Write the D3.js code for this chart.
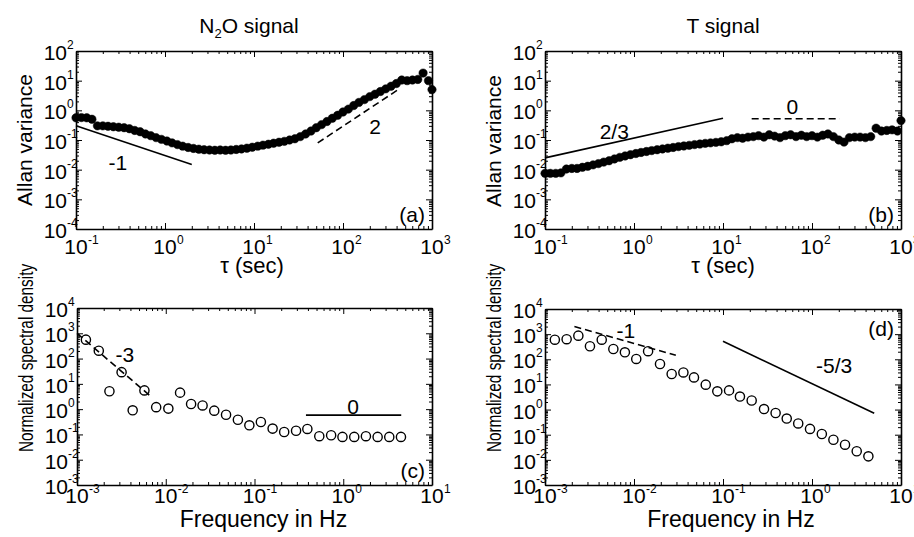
<!DOCTYPE html>
<html>
<head>
<meta charset="utf-8">
<script src="https://cdn.jsdelivr.net/npm/d3@7"></script>
<style>
  body { margin: 0; background: #fff; }
  text { font-family: "Liberation Sans", Arial, sans-serif; fill: #000; }
</style>
</head>
<body>
<svg id="chart" width="914" height="537"></svg>
<script>
// Averaging times (sec) shared by both Allan variance curves
const tauAllan = [0.1, 0.115, 0.132, 0.151, 0.174, 0.2, 0.229, 0.263, 0.302, 0.347, 0.398, 0.457,
  0.525, 0.603, 0.692, 0.794, 0.912, 1.05, 1.2, 1.38, 1.58, 1.82, 2.09, 2.4, 2.75, 3.16, 3.63,
  4.17, 4.79, 5.5, 6.31, 7.24, 8.32, 9.55, 11, 12.6, 14.5, 16.6, 19.1, 21.9, 25.1, 28.8, 33.1,
  38, 43.7, 50.1, 57.5, 66.1, 75.9, 87.1, 100, 115, 132, 151, 174, 200, 229, 263, 302, 347,
  398, 457, 525, 603, 692, 794, 912, 1000];

// (a) N2O signal Allan variance
const allanN2O = [0.56, 0.57, 0.56, 0.5, 0.3, 0.3, 0.29, 0.28, 0.27, 0.26, 0.24, 0.21,
  0.19, 0.16, 0.14, 0.12, 0.105, 0.092, 0.08, 0.07, 0.062, 0.056, 0.052, 0.049, 0.047, 0.046, 0.045,
  0.046, 0.045, 0.046, 0.048, 0.05, 0.053, 0.057, 0.062, 0.067, 0.072, 0.078, 0.084, 0.09, 0.1, 0.11, 0.13,
  0.16, 0.2, 0.26, 0.33, 0.42, 0.54, 0.68, 0.88, 1.1, 1.45, 1.85, 2.3, 2.9, 3.5, 4.3, 5.3, 6.5,
  8, 10.5, 10, 10.5, 11, 18, 10, 5];

// (b) T signal Allan variance
const allanT = [0.0075, 0.0075, 0.0075, 0.0078, 0.0105, 0.011, 0.011, 0.012, 0.013, 0.0145, 0.016, 0.018,
  0.02, 0.023, 0.026, 0.029, 0.032, 0.035, 0.038, 0.041, 0.044, 0.047, 0.05, 0.053, 0.056, 0.06, 0.063,
  0.066, 0.07, 0.073, 0.077, 0.08, 0.083, 0.087, 0.095, 0.11, 0.12, 0.115, 0.125, 0.13, 0.14, 0.125, 0.15,
  0.135, 0.12, 0.14, 0.15, 0.13, 0.145, 0.13, 0.14, 0.125, 0.145, 0.16, 0.13, 0.1, 0.085, 0.12, 0.125, 0.125,
  0.12, 0.13, 0.25, 0.2, 0.21, 0.22, 0.2, 0.45];

// (c) N2O normalized spectral density
const freqN2O = [0.00126, 0.00176, 0.00232, 0.00318, 0.00424, 0.00575, 0.0078, 0.0107, 0.0145, 0.0193,
  0.026, 0.0352, 0.0478, 0.065, 0.0875, 0.118, 0.16, 0.216, 0.294, 0.394, 0.537, 0.73, 0.98, 1.33,
  1.8, 2.44, 3.3, 4.47];
const psdN2O = [560, 205, 5.1, 29, 0.9, 5.5, 1.2, 1.05, 4.5, 1.6, 1.4, 0.87, 0.6, 0.38, 0.23, 0.31,
  0.17, 0.125, 0.14, 0.165, 0.085, 0.093, 0.08, 0.08, 0.085, 0.08, 0.08, 0.08];

// (d) T normalized spectral density
const freqT = [0.00129, 0.00175, 0.00237, 0.0032, 0.00434, 0.00586, 0.0079, 0.0106, 0.0144, 0.0196,
  0.0265, 0.0359, 0.0472, 0.064, 0.0863, 0.117, 0.155, 0.21, 0.289, 0.39, 0.52, 0.7, 0.95, 1.29,
  1.74, 2.35, 3.18, 4.3];
const psdT = [600, 630, 870, 330, 600, 257, 190, 103, 210, 65, 26, 30, 19, 9.8, 5.3, 5.8, 3.3, 2.3,
  1.05, 0.73, 0.44, 0.28, 0.17, 0.107, 0.063, 0.04, 0.022, 0.0138];

// Reference slope lines (endpoints and label anchor in data units)
const slopesN2OAllan = [
  { x: [0.1, 2], y: [0.3, 0.015], dashed: false, label: "-1", lx: 0.296, ly: 0.0168 },
  { x: [52, 430], y: [0.08, 5.3], dashed: true, label: "2", lx: 229, ly: 0.275 }
];
const slopesTAllan = [
  { x: [0.1, 10], y: [0.025, 0.54], dashed: false, label: "2/3", lx: 0.6, ly: 0.186 },
  { x: [21, 205], y: [0.52, 0.52], dashed: true, label: "0", lx: 60, ly: 1.3 }
];
const slopesN2OPsd = [
  { x: [0.001, 0.0069], y: [1000, 3.04], dashed: true, label: "-3", lx: 0.00347, ly: 138 },
  { x: [0.38, 4.5], y: [0.58, 0.58], dashed: false, label: "0", lx: 1.29, ly: 1.2 }
];
const slopesTPsd = [
  { x: [0.00214, 0.0295], y: [2000, 144], dashed: true, label: "-1", lx: 0.0081, ly: 1330 },
  { x: [0.1, 5], y: [520, 0.72], dashed: false, label: "-5/3", lx: 1.77, ly: 54 }
];

const svg = d3.select("#chart");

function decades(domain) {
  let lo = Math.round(Math.log10(domain[0])), hi = Math.round(Math.log10(domain[1]));
  return d3.range(lo, hi + 1).map(e => Math.pow(10, e));
}

function minors(domain) {
  let out = [];
  decades(domain).slice(0, -1).forEach(d => {
    for (let k = 2; k <= 9; k++) out.push(k * d);
  });
  return out;
}

function drawPanel(p) {
  const x = d3.scaleLog().domain(p.xDomain).range([p.left, p.left + p.width]);
  const y = d3.scaleLog().domain(p.yDomain).range([p.top + p.height, p.top]);
  const g = svg.append("g");
  const bottom = p.top + p.height, right = p.left + p.width;

  // inward ticks on all four sides, major and minor
  const sides = [
    { axis: d3.axisBottom(x), t: `translate(0,${bottom})`, major: decades(p.xDomain), minor: minors(p.xDomain) },
    { axis: d3.axisTop(x), t: `translate(0,${p.top})`, major: decades(p.xDomain), minor: minors(p.xDomain) },
    { axis: d3.axisLeft(y), t: `translate(${p.left},0)`, major: decades(p.yDomain), minor: minors(p.yDomain) },
    { axis: d3.axisRight(y), t: `translate(${right},0)`, major: decades(p.yDomain), minor: minors(p.yDomain) }
  ];
  sides.forEach(sd => {
    const make = () => sd.axis.tickFormat("").tickSizeOuter(0);
    g.append("g").attr("transform", sd.t)
      .call(make().tickValues(sd.minor).tickSizeInner(-3))
      .call(a => a.select(".domain").remove());
    g.append("g").attr("transform", sd.t)
      .call(make().tickValues(sd.major).tickSizeInner(-6))
      .call(a => a.select(".domain").attr("stroke-width", 1.6));
  });
  g.selectAll(".tick line").attr("stroke", "#000");

  // x tick labels: 10 with superscript exponent
  decades(p.xDomain).forEach(v => {
    const e = Math.round(Math.log10(v));
    g.append("text").attr("x", x(v)).attr("y", bottom + p.xTickDy)
      .attr("text-anchor", "middle").style("font-size", "21px").text("10");
    g.append("text").attr("x", x(v) + 12).attr("y", bottom + p.xTickDy - 10)
      .style("font-size", "12px").text(e);
  });
  // y tick labels
  decades(p.yDomain).forEach(v => {
    const e = Math.round(Math.log10(v));
    g.append("text").attr("x", p.left - 9).attr("y", y(v) + 9)
      .attr("text-anchor", "end").style("font-size", "21px").text("10");
    g.append("text").attr("x", p.left - 9).attr("y", y(v) - 2)
      .style("font-size", "12px").text(e);
  });

  // reference slope lines
  p.slopes.forEach(s => {
    g.append("line")
      .attr("x1", x(s.x[0])).attr("y1", y(s.y[0]))
      .attr("x2", x(s.x[1])).attr("y2", y(s.y[1]))
      .attr("stroke", "#000").attr("stroke-width", 1.6)
      .attr("stroke-dasharray", s.dashed ? "7,4" : null);
    g.append("text").attr("x", x(s.lx)).attr("y", y(s.ly)).attr("dy", "0.35em")
      .attr("text-anchor", "middle").style("font-size", "21px").text(s.label);
  });

  // data markers
  const pts = p.xs.map((d, i) => [d, p.ys[i]]);
  g.selectAll("circle.pt").data(pts).join("circle")
    .attr("class", "pt")
    .attr("cx", d => x(d[0])).attr("cy", d => y(d[1]))
    .attr("r", p.filled ? 4.2 : 4.6)
    .attr("fill", p.filled ? "#000" : "none")
    .attr("stroke", "#000").attr("stroke-width", p.filled ? 0.5 : 1.4);

  // panel letter
  g.append("text").attr("x", right - 7).attr("y", p.letterTop ? p.top + 27 : bottom - 7)
    .attr("text-anchor", "end").style("font-size", "21px").text(p.letter);

  // axis titles
  g.append("text").attr("x", p.left + p.width / 2 + p.xLabelShift).attr("y", p.xLabelY)
    .attr("text-anchor", "middle").style("font-size", p.xLabelSize).text(p.xLabel);
  g.append("text")
    .attr("transform", `translate(${p.yLabelX},${p.yLabelY}) rotate(-90) scale(${p.yLabelSquash},1)`)
    .attr("text-anchor", "middle").style("font-size", "21px").text(p.yLabel);
}

const panels = [
  { left: 76, top: 51, width: 356, height: 178, xDomain: [0.1, 1000], yDomain: [1e-4, 1e2],
    xs: tauAllan, ys: allanN2O, filled: true, slopes: slopesN2OAllan, letter: "(a)", xTickDy: 25,
    xLabel: "τ (sec)", xLabelY: 273, xLabelShift: -2, xLabelSize: "22px",
    yLabel: "Allan variance", yLabelX: 32, yLabelY: 140, yLabelSquash: 1 },
  { left: 545, top: 51, width: 356, height: 178, xDomain: [0.1, 1000], yDomain: [1e-4, 1e2],
    xs: tauAllan, ys: allanT, filled: true, slopes: slopesTAllan, letter: "(b)", xTickDy: 25,
    xLabel: "τ (sec)", xLabelY: 273, xLabelShift: 0, xLabelSize: "22px",
    yLabel: "Allan variance", yLabelX: 501, yLabelY: 141, yLabelSquash: 1 },
  { left: 77, top: 308, width: 355, height: 177, xDomain: [1e-3, 10], yDomain: [1e-3, 1e4],
    xs: freqN2O, ys: psdN2O, filled: false, slopes: slopesN2OPsd, letter: "(c)", xTickDy: 18,
    xLabel: "Frequency in Hz", xLabelY: 527, xLabelShift: 9, xLabelSize: "23px",
    yLabel: "Normalized spectral density", yLabelX: 33, yLabelY: 358, yLabelSquash: 0.73 },
  { left: 545, top: 309, width: 356, height: 176, xDomain: [1e-3, 10], yDomain: [1e-3, 1e4],
    xs: freqT, ys: psdT, filled: false, slopes: slopesTPsd, letter: "(d)", letterTop: true, xTickDy: 18,
    xLabel: "Frequency in Hz", xLabelY: 527, xLabelShift: 8, xLabelSize: "23px",
    yLabel: "Normalized spectral density", yLabelX: 501, yLabelY: 358, yLabelSquash: 0.73 }
];

panels.forEach(drawPanel);

// panel titles
const t1 = svg.append("text").attr("x", 249).attr("y", 33).attr("text-anchor", "middle").style("font-size", "21px");
t1.append("tspan").text("N");
t1.append("tspan").attr("dy", 5).style("font-size", "13px").text("2");
t1.append("tspan").attr("dy", -5).text("O signal");
svg.append("text").attr("x", 723).attr("y", 33).attr("text-anchor", "middle").style("font-size", "21px").text("T signal");
</script>
</body>
</html>
